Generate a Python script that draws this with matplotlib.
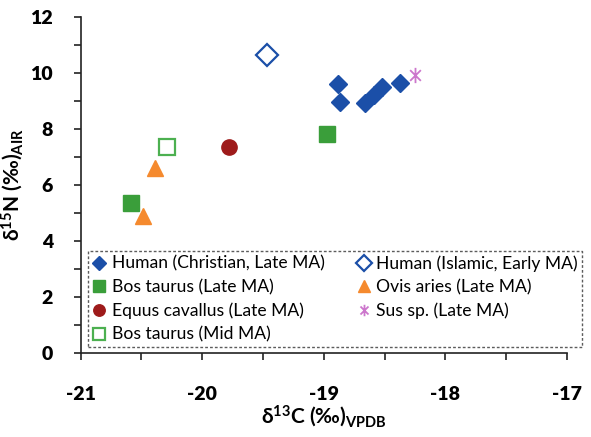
import matplotlib
matplotlib.use("Agg")
import matplotlib.pyplot as plt
from matplotlib.path import Path
from matplotlib.ticker import MultipleLocator

plt.rcParams['font.family'] = ['Lato', 'DejaVu Sans']
plt.rcParams['font.weight'] = 'bold'
plt.rcParams['mathtext.default'] = 'regular'
plt.rcParams['axes.unicode_minus'] = False

# Data (d13C, d15N)
human_christian_x = [-18.88, -18.87, -18.66, -18.59, -18.52, -18.37]
human_christian_y = [9.61, 8.97, 8.93, 9.21, 9.50, 9.64]
human_islamic_x = [-19.47]
human_islamic_y = [10.64]
bos_late_x = [-18.97, -20.59]
bos_late_y = [7.82, 5.35]
ovis_x = [-20.39, -20.49]
ovis_y = [6.60, 4.89]
equus_x = [-19.78]
equus_y = [7.35]
sus_x = [-18.25]
sus_y = [9.93]
bos_mid_x = [-20.29]
bos_mid_y = [7.35]

x_ticks = [-21, -20, -19, -18, -17]
x_tick_labels = ["-21", "-20", "-19", "-18", "-17"]
y_ticks = [0, 2, 4, 6, 8, 10, 12]
y_tick_labels = ["0", "2", "4", "6", "8", "10", "12"]

labels = ["Human (Christian, Late MA)", "Bos taurus (Late MA)", "Equus cavallus (Late MA)",
          "Bos taurus (Mid MA)", "Human (Islamic, Early MA)", "Ovis aries (Late MA)",
          "Sus sp. (Late MA)"]

star_path = Path([(0, 1), (0, -1), (-0.7, 0.7), (0.7, -0.7), (-0.7, -0.7), (0.7, 0.7)],
                 [Path.MOVETO, Path.LINETO, Path.MOVETO, Path.LINETO, Path.MOVETO, Path.LINETO])

fig = plt.figure(figsize=(5.91, 4.37), dpi=100)
ax = fig.add_axes([0.1366, 0.192, 0.8224, 0.769])

blue = '#1B4FA8'
green = '#3A9E3A'
orange = '#F58A2E'
red = '#9E1B1B'
purple = '#CC77CC'

ax.plot(human_christian_x, human_christian_y, ls='none', marker='D', ms=9.5, color=blue, mec=blue, label=labels[0])
ax.plot(bos_late_x, bos_late_y, ls='none', marker='s', ms=11, color=green, mec=green, label=labels[1])
ax.plot(equus_x, equus_y, ls='none', marker='o', ms=11, color=red, mec=red, label=labels[2])
ax.plot(bos_mid_x, bos_mid_y, ls='none', marker='s', ms=11, mfc='white', mec='#4CB050', mew=1.6, label=labels[3])
ax.plot(human_islamic_x, human_islamic_y, ls='none', marker='D', ms=11.5, mfc='white', mec=blue, mew=1.6, label=labels[4])
ax.plot(ovis_x, ovis_y, ls='none', marker='^', ms=11, color=orange, mec=orange, label=labels[5])
ax.plot(sus_x, sus_y, ls='none', marker=star_path, ms=11, mfc='none', mec=purple, mew=1.3, label=labels[6])

ax.set_xlim(-21, -17)
ax.set_ylim(0, 12)
ax.set_xticks(x_ticks, labels=x_tick_labels, fontweight='heavy', fontsize=14, family='Lato')
ax.set_yticks(y_ticks, labels=y_tick_labels, fontweight='heavy', fontsize=14, family='Lato')
ax.xaxis.set_minor_locator(MultipleLocator(0.5))
ax.yaxis.set_minor_locator(MultipleLocator(1))

for s in ['top', 'right']:
    ax.spines[s].set_visible(False)
for s in ['left', 'bottom']:
    ax.spines[s].set_color('#222222')
    ax.spines[s].set_linewidth(1.2)

ax.tick_params(axis='both', which='major', direction='out', length=5, width=1.2, color='#222222')
ax.tick_params(axis='both', which='minor', direction='out', length=5, width=1.2, color='#222222')
ax.tick_params(axis='x', which='major', pad=19)
ax.tick_params(axis='y', which='major', pad=15)

ax.set_xlabel(r'δ$^{13}$C (‰)$_{VPDB}$', fontsize=15, fontweight='bold', labelpad=0)
ax.set_ylabel(r'δ$^{15}$N (‰)$_{AIR}$', fontsize=15, fontweight='bold', labelpad=4)

leg = ax.legend(ncol=2, loc='lower left', bbox_to_anchor=(88/591, 1-347/437, (582-88)/591, 0.2),
                bbox_transform=fig.transFigure, mode='expand', borderaxespad=0,
                prop={'family': 'Lato', 'weight': 'normal', 'size': 12.6},
                frameon=True, fancybox=False, markerscale=0.75,
                handlelength=0.8, handletextpad=0.3, labelspacing=0.42, columnspacing=1.0,
                borderpad=0.25)
fr = leg.get_frame()
fr.set_edgecolor('#333333')
fr.set_linestyle((0, (2, 1.5)))
fr.set_linewidth(1.0)
fr.set_facecolor('white')

fig.savefig('out.png', dpi=100)
